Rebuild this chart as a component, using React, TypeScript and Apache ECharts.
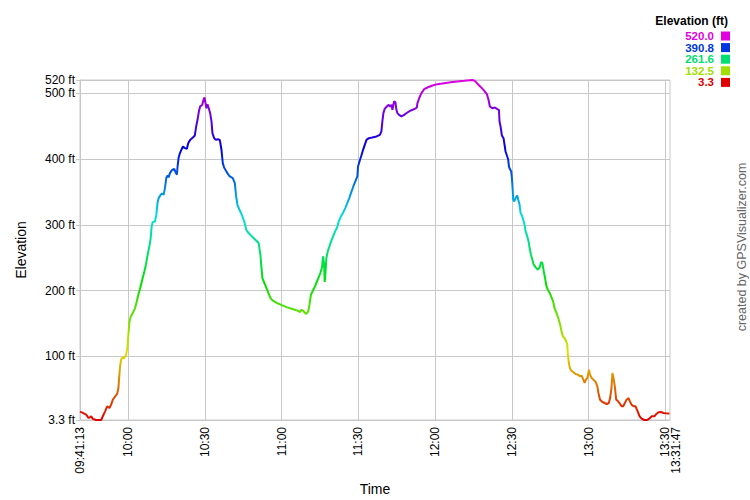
import React, { useEffect, useRef } from "react";
import * as echarts from "echarts";

const FONT = "'Liberation Sans', Arial, sans-serif";

// [time, elevation in ft]
const trackPoints: [string, number][] = [
  ["09:41:13", 16], ["09:42:20", 14], ["09:43:38", 11.4], ["09:44:33", 6.4], ["09:45:04", 7.4],
  ["09:45:35", 8.9], ["09:46:14", 5], ["09:47:32", 3.3], ["09:49:29", 3.3], ["09:50:08", 9],
  ["09:51:02", 16.5], ["09:51:49", 24], ["09:52:44", 21.6], ["09:53:23", 26.6], ["09:54:02", 34],
  ["09:54:56", 39], ["09:55:43", 43], ["09:56:14", 52], ["09:56:30", 67], ["09:56:53", 85],
  ["09:57:16", 95], ["09:57:55", 98.5], ["09:58:34", 97.5], ["09:59:13", 102], ["09:59:44", 113],
  ["10:00:08", 133], ["10:00:31", 151], ["10:00:55", 159], ["10:01:49", 166], ["10:02:44", 173],
  ["10:03:23", 183], ["10:04:02", 194], ["10:04:33", 201], ["10:05:04", 209], ["10:05:43", 219],
  ["10:06:22", 229], ["10:07:01", 240], ["10:07:24", 249], ["10:07:55", 259.5], ["10:08:26", 269.6],
  ["10:08:50", 279.8], ["10:09:13", 297.5], ["10:09:37", 304], ["10:10:31", 305], ["10:11:02", 315],
  ["10:11:33", 334.4], ["10:11:57", 340.5], ["10:12:36", 344.6], ["10:13:15", 347.6], ["10:13:54", 345.6],
  ["10:14:25", 355.7], ["10:14:56", 371], ["10:15:27", 375], ["10:15:51", 372], ["10:16:22", 378.5],
  ["10:17:09", 383], ["10:18:03", 385], ["10:18:42", 378.5], ["10:19:05", 376], ["10:19:21", 388.6],
  ["10:19:44", 401.3], ["10:20:08", 407.3], ["10:20:39", 412.4], ["10:21:26", 419], ["10:22:12", 416.5],
  ["10:22:59", 415.5], ["10:23:30", 424], ["10:24:17", 429], ["10:25:19", 432.7], ["10:26:06", 435.7],
  ["10:26:37", 449.4], ["10:27:09", 459.5], ["10:27:40", 472], ["10:28:11", 480], ["10:28:58", 482],
  ["10:29:29", 490], ["10:29:52", 493.4], ["10:30:16", 484.8], ["10:30:39", 477], ["10:31:02", 483],
  ["10:31:33", 477], ["10:32:05", 469.6], ["10:32:36", 457], ["10:32:59", 439], ["10:33:38", 431.6],
  ["10:34:17", 429], ["10:35:04", 430], ["10:35:51", 429], ["10:36:30", 414], ["10:37:01", 393.7],
  ["10:37:32", 387], ["10:38:34", 380], ["10:39:29", 374.4], ["10:40:55", 371], ["10:41:43", 363.3],
  ["10:42:14", 343], ["10:42:46", 330], ["10:43:33", 322.8], ["10:44:28", 315], ["10:45:24", 305],
  ["10:46:11", 292.4], ["10:47:06", 287.4], ["10:48:25", 282.3], ["10:49:44", 277.3], ["10:51:03", 272.2],
  ["10:51:43", 254.4], ["10:52:06", 236.7], ["10:52:30", 219], ["10:53:17", 211.3], ["10:54:05", 203.8],
  ["10:54:52", 196], ["10:55:39", 188.6], ["10:56:35", 184.6], ["10:58:17", 181], ["11:00:16", 177.5],
  ["11:02:14", 174.5], ["11:04:13", 172], ["11:06:11", 169.5], ["11:07:14", 167.4], ["11:07:46", 171],
  ["11:08:33", 168.5], ["11:09:36", 164.4], ["11:10:24", 168.5], ["11:10:55", 178.6], ["11:11:27", 193.7],
  ["11:12:14", 199.8], ["11:13:02", 206.4], ["11:13:49", 214], ["11:14:28", 220], ["11:15:08", 226.6],
  ["11:15:47", 235], ["11:16:11", 251.9], ["11:16:35", 241.8], ["11:16:51", 213], ["11:17:06", 224],
  ["11:17:30", 249.4], ["11:18:02", 259.5], ["11:18:41", 267], ["11:19:21", 274.7], ["11:20:08", 282.3],
  ["11:20:55", 290], ["11:21:43", 296], ["11:22:14", 304], ["11:23:02", 311.3], ["11:23:57", 317.8],
  ["11:24:52", 325.4], ["11:25:40", 333], ["11:26:27", 340.5], ["11:27:14", 349.6], ["11:28:02", 358.2],
  ["11:28:49", 365.8], ["11:29:36", 373.4], ["11:29:52", 388.6], ["11:30:32", 397.2], ["11:31:11", 405.3],
  ["11:31:51", 413.9], ["11:32:30", 421.5], ["11:33:10", 429], ["11:34:05", 431.6], ["11:35:24", 432.7],
  ["11:37:06", 434.2], ["11:38:25", 436.7], ["11:39:00", 441.8], ["11:39:23", 457], ["11:39:47", 469.6],
  ["11:40:18", 476.2], ["11:41:05", 479.7], ["11:41:52", 482.3], ["11:42:23", 479.7], ["11:42:55", 482.3],
  ["11:43:18", 474.7], ["11:43:57", 487.3], ["11:44:29", 486.3], ["11:44:52", 474.7], ["11:45:16", 469.6],
  ["11:45:55", 467], ["11:46:50", 464.6], ["11:47:52", 467], ["11:49:10", 470.6], ["11:50:29", 473.7],
  ["11:52:03", 476.2], ["11:52:50", 478.2], ["11:53:05", 484.8], ["11:53:52", 493.4], ["11:54:39", 500],
  ["11:55:42", 506], ["11:57:00", 508.6], ["11:58:57", 511.6], ["12:00:55", 513.7], ["12:03:31", 515.2],
  ["12:06:08", 516.7], ["12:08:44", 517.7], ["12:11:21", 518.7], ["12:14:37", 520], ["12:15:31", 518.7],
  ["12:17:13", 511.6], ["12:18:55", 505], ["12:20:13", 498.5], ["12:20:52", 490], ["12:21:23", 479.7],
  ["12:22:26", 477], ["12:23:21", 478.2], ["12:24:08", 476.2], ["12:24:55", 474.7], ["12:25:10", 457],
  ["12:25:34", 449.4], ["12:26:05", 435.7], ["12:26:44", 431.6], ["12:27:08", 421.5], ["12:27:31", 411.4],
  ["12:28:03", 405.3], ["12:28:34", 398.7], ["12:28:50", 388.6], ["12:29:13", 384.6], ["12:29:44", 381],
  ["12:30:00", 371], ["12:30:16", 355.7], ["12:30:31", 338], ["12:30:55", 335.4], ["12:31:26", 340.5],
  ["12:32:05", 344.6], ["12:32:29", 338], ["12:33:00", 330.4], ["12:33:23", 317.8], ["12:33:55", 314.2],
  ["12:34:26", 307.6], ["12:34:57", 300], ["12:35:21", 289.9], ["12:36:00", 282.3], ["12:36:31", 274.7],
  ["12:36:55", 264.6], ["12:37:28", 254.4], ["12:38:00", 246.9], ["12:38:31", 239.3], ["12:39:18", 235.3],
  ["12:40:05", 231.7], ["12:40:52", 235.3], ["12:41:24", 243.4], ["12:41:55", 241.8], ["12:42:27", 229.2],
  ["12:42:58", 219], ["12:43:30", 206.4], ["12:44:01", 201.3], ["12:44:48", 196.3], ["12:45:20", 191.2],
  ["12:46:07", 183.6], ["12:46:38", 173.5], ["12:47:10", 168.5], ["12:47:41", 163.3], ["12:48:20", 155.7],
  ["12:48:52", 148.1], ["12:49:23", 138], ["12:49:55", 130.4], ["12:50:34", 127.9], ["12:51:13", 122.9],
  ["12:51:37", 117.8], ["12:51:53", 102.6], ["12:52:16", 89.9], ["12:52:40", 82.3], ["12:53:11", 78.3],
  ["12:53:58", 76.3], ["12:54:53", 73.3], ["12:55:48", 72.3], ["12:56:36", 69.8], ["12:57:15", 70.8],
  ["12:57:54", 64.6], ["12:58:26", 59.6], ["12:58:57", 64.6], ["12:59:29", 67.2], ["13:00:08", 79.9],
  ["13:00:31", 72.3], ["13:01:11", 67.2], ["13:01:50", 64.6], ["13:02:45", 61], ["13:03:24", 54.5],
  ["13:03:48", 44.4], ["13:04:27", 34.2], ["13:05:22", 30.7], ["13:06:17", 29.1], ["13:07:04", 27.6],
  ["13:07:52", 29.1], ["13:08:23", 36.7], ["13:08:54", 51.9], ["13:09:18", 74.8], ["13:09:42", 67.2],
  ["13:10:13", 54.5], ["13:10:45", 34.2], ["13:11:16", 32.7], ["13:12:03", 29.1], ["13:12:50", 24.1],
  ["13:13:30", 24.1], ["13:14:09", 29.1], ["13:14:48", 34.2], ["13:15:35", 36.7], ["13:16:07", 31.6],
  ["13:16:46", 26.6], ["13:17:33", 24.1], ["13:18:20", 24.1], ["13:19:08", 16.5], ["13:19:55", 8.9],
  ["13:20:42", 5.4], ["13:21:45", 3.3], ["13:22:48", 3.3], ["13:23:43", 5.4], ["13:24:38", 8.9],
  ["13:25:41", 8.9], ["13:26:28", 12.5], ["13:27:15", 15], ["13:28:18", 15.5], ["13:29:13", 14],
  ["13:30:08", 13.5], ["13:31:34", 13], ["13:31:47", 13],
];

const startTime = "09:41:13";
const endTime = "13:31:47";
const xTickTimes = ["09:41:13", "10:00:00", "10:30:00", "11:00:00", "11:30:00", "12:00:00", "12:30:00", "13:00:00", "13:30:00"];
const xEndTickTimes = ["13:31:47"];

const elevMin = 3.3;
const elevMax = 520;
const yTickValues = [3.3, 100, 200, 300, 400, 500, 520];

const legendTitle = "Elevation (ft)";
const legendValues = ["520.0", "390.8", "261.6", "132.5", "3.3"];
const legendColors = ["#e000e0", "#0038e0", "#00e070", "#a0e000", "#e00000"];

const spectrum = [
  "#e00000", "#e07000", "#e0e000", "#70e000", "#00e000", "#00e070",
  "#00e0e0", "#0070e0", "#0000e0", "#7000e0", "#e000e0",
];

const toSec = (t: string) => {
  const [h, m, s] = t.split(":").map(Number);
  return h * 3600 + m * 60 + s;
};
const pad = (n: number) => String(n).padStart(2, "0");
const fmtTime = (v: number) => {
  const h = Math.floor(v / 3600);
  const m = Math.floor((v % 3600) / 60);
  const s = Math.round(v % 60);
  return s === 0 ? `${pad(h)}:${pad(m)}` : `${pad(h)}:${pad(m)}:${pad(s)}`;
};

export default function App() {
  const ref = useRef<HTMLDivElement>(null);
  useEffect(() => {
    if (!ref.current) return;
    const chart = echarts.init(ref.current, undefined, { renderer: "svg" });
    const xMin = toSec(startTime);
    const xMax = toSec(endTime);
    const data = trackPoints.map(([t, e]) => [toSec(t), e]);
    const grid = "#c8c8c8";

    const legendGraphics: any[] = [
      {
        type: "text",
        x: 728,
        y: 21,
        style: {
          text: legendTitle,
          fill: "#000",
          font: `bold 12px ${FONT}`,
          textAlign: "right",
          textVerticalAlign: "middle",
        },
      },
    ];
    legendValues.forEach((v, i) => {
      const y = 36 + i * 11.6;
      legendGraphics.push({
        type: "text",
        x: 714,
        y,
        style: {
          text: v,
          fill: legendColors[i],
          font: `bold 11.5px ${FONT}`,
          lineHeight: 11,
          textAlign: "right",
          textVerticalAlign: "middle",
        },
      });
      legendGraphics.push({
        type: "rect",
        shape: { x: 721, y: y - 4.5, width: 9, height: 9 },
        style: { fill: legendColors[i] },
      });
    });

    const labelBase = {
      rotate: 90,
      margin: 7,
      fontSize: 12,
      color: "#000",
      fontFamily: FONT,
    };

    chart.setOption({
      animation: false,
      backgroundColor: "#fff",
      textStyle: { fontFamily: FONT },
      grid: {
        left: 80,
        top: 80,
        width: 590,
        height: 340,
        show: true,
        borderColor: grid,
        borderWidth: 1,
        backgroundColor: "transparent",
        containLabel: false,
        outerBoundsMode: "none",
      },
      visualMap: {
        type: "continuous",
        show: false,
        dimension: 1,
        seriesIndex: 0,
        min: elevMin,
        max: elevMax,
        inRange: { color: spectrum },
      },
      xAxis: [
        {
          type: "value",
          min: xMin,
          max: xMax,
          name: "Time",
          nameLocation: "middle",
          nameGap: 60,
          nameTextStyle: { fontSize: 14, color: "#000", fontFamily: FONT },
          axisLine: { show: true, lineStyle: { color: grid } },
          axisTick: { show: false, customValues: xTickTimes.map(toSec) },
          axisLabel: {
            ...labelBase,
            customValues: xTickTimes.map(toSec),
            formatter: (v: number) => fmtTime(v),
          },
          splitLine: { show: true, lineStyle: { color: grid, width: 1 } },
        },
        {
          type: "value",
          min: xMin,
          max: xMax,
          position: "bottom",
          axisLine: { show: false },
          axisTick: { show: false, customValues: xEndTickTimes.map(toSec) },
          axisLabel: {
            ...labelBase,
            customValues: xEndTickTimes.map(toSec),
            formatter: (v: number) => "\n" + fmtTime(v),
            lineHeight: 12,
          },
          splitLine: { show: false },
        },
      ],
      yAxis: {
        type: "value",
        min: elevMin,
        max: elevMax,
        name: "Elevation",
        nameLocation: "middle",
        nameGap: 52,
        nameTextStyle: { fontSize: 14, color: "#000", fontFamily: FONT },
        axisLine: { show: true, lineStyle: { color: grid } },
        axisTick: { show: true, length: 4, lineStyle: { color: grid }, customValues: yTickValues },
        axisLabel: {
          customValues: yTickValues,
          formatter: (v: number) => `${v} ft`,
          margin: 5,
          fontSize: 12,
          color: "#000",
          fontFamily: FONT,
        },
        splitLine: { show: true, lineStyle: { color: grid, width: 1 } },
      },
      series: [
        {
          type: "line",
          data,
          showSymbol: false,
          symbol: "none",
          lineStyle: { width: 2 },
          xAxisIndex: 0,
          yAxisIndex: 0,
        },
      ],
      graphic: [
        ...legendGraphics,
        {
          type: "text",
          x: 742,
          y: 247,
          rotation: Math.PI / 2,
          style: {
            text: "created by GPSVisualizer.com",
            fill: "#666",
            font: `12.5px ${FONT}`,
            textAlign: "center",
            textVerticalAlign: "middle",
          },
        },
      ],
    });
    return () => chart.dispose();
  }, []);
  return (
    <div
      ref={ref}
      style={{ position: "fixed", left: 0, top: 0, width: 750, height: 500, background: "#fff" }}
    />
  );
}
